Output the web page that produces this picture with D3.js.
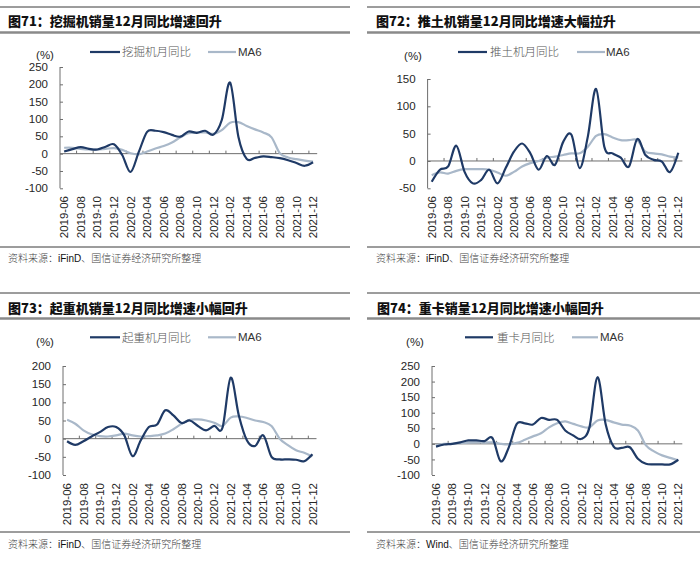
<!DOCTYPE html>
<html>
<head>
<meta charset="utf-8">
<script src="https://cdn.jsdelivr.net/npm/d3@7/dist/d3.min.js"></script>
<style>
  html, body { margin: 0; padding: 0; background: #fff; }
  svg { display: block; }
  .cjk { font-family: "Noto Sans CJK SC", sans-serif; }
  .lat { font-family: "Liberation Sans", Arial, sans-serif; }
</style>
</head>
<body>
<svg id="chart" width="700" height="561"></svg>
<script>
// ---------------- DATA ----------------
const months = ["2019-06","2019-07","2019-08","2019-09","2019-10","2019-11","2019-12",
  "2020-01","2020-02","2020-03","2020-04","2020-05","2020-06","2020-07","2020-08","2020-09",
  "2020-10","2020-11","2020-12","2021-01","2021-02","2021-03","2021-04","2021-05","2021-06",
  "2021-07","2021-08","2021-09","2021-10","2021-11","2021-12"];
const tickMonths = ["2019-06","2019-08","2019-10","2019-12","2020-02","2020-04","2020-06","2020-08",
  "2020-10","2020-12","2021-02","2021-04","2021-06","2021-08","2021-10","2021-12"];

// 图71 挖掘机
const excavatorYoY = [6,13,19,14,12,20,27,-4,-53,5,63,66,62,54,49,64,60,66,55,97,205,49,-15,-12,-8,-10,-13,-19,-27,-35,-25];
const excavatorMA6 = [17,17,14,12,12,14,16,11,1,-2,6,15,22,32,47,59,61,61,57,68,89,91,80,70,61,47,1,-11,-16,-20,-23];
const excavatorTicks = [-100,-50,0,50,100,150,200,250];

// 图72 推土机
const bulldozerYoY = [-38,-16,-10,28,-20,-41,-35,-16,-41,-13,17,32,14,-16,9,-7,35,48,-13,45,132,26,14,6,-10,40,11,2,-1,-20,15];
const bulldozerMA6 = [-26,-21,-23,-18,-15,-15,-15,-16,-21,-27,-20,-10,-4,0,6,8,11,14,14,26,46,49,43,38,38,38,17,14,12,8,6];
const bulldozerTicks = [-50,0,50,100,150];

// 图73 起重机
const craneYoY = [-7,-17,-7,6,18,32,32,9,-48,-5,32,39,78,64,43,50,35,23,35,30,168,64,-5,-20,9,-50,-57,-57,-58,-62,-43];
const craneMA6 = [52,41,23,12,7,6,9,14,9,6,7,9,14,26,41,52,53,50,44,35,58,61,57,50,46,35,0,-18,-32,-39,-49];
const craneTicks = [-100,-50,0,50,100,150,200];

// 图74 重卡
const truckYoY = [-9,-2,0,5,11,11,9,18,-56,-12,64,66,62,83,77,77,43,27,16,53,214,64,-9,-13,-11,-48,-64,-66,-66,-66,-51];
const truckMA6 = [-5,0,0,2,4,5,4,5,0,-2,3,13,24,34,53,66,72,64,56,53,75,77,69,62,59,43,-5,-24,-37,-45,-53];
const truckTicks = [-100,-50,0,50,100,150,200,250];

const titles = ["图71：挖掘机销量12月同比增速回升","图72：推土机销量12月同比增速大幅拉升",
                "图73：起重机销量12月同比增速小幅回升","图74：重卡销量12月同比增速小幅回升"];
const legendNames = ["挖掘机月同比","推土机月同比","起重机月同比","重卡月同比"];
const maName = "MA6";
const sources = ["iFinD","iFinD","iFinD","Wind"];

// ---------------- LAYOUT ----------------
const panels = [
  { yoy: excavatorYoY, ma: excavatorMA6, ticks: excavatorTicks, title: titles[0], legend: legendNames[0], src: sources[0],
    x0: 0, x1: 350, topY: 7, titleX: 8, titleY: 26, thickY: 32.5,
    pl: 60, pr: 317.2, pt: 67, pb: 188.3,
    legY: 52, l1: [90,120], t1: 122, l2: [208,236], t2: 238, pctX: 45, pctY: 58.5,
    labTop: 196, botY: 247, srcX: 8, srcY: 262 },
  { yoy: bulldozerYoY, ma: bulldozerMA6, ticks: bulldozerTicks, title: titles[1], legend: legendNames[1], src: sources[1],
    x0: 367, x1: 700, topY: 7, titleX: 376, titleY: 26, thickY: 32.5,
    pl: 427.6, pr: 682.4, pt: 79, pb: 188.3,
    legY: 52, l1: [458,487], t1: 490, l2: [577,605], t2: 606, pctX: 413, pctY: 60,
    labTop: 196, botY: 247, srcX: 376, srcY: 262 },
  { yoy: craneYoY, ma: craneMA6, ticks: craneTicks, title: titles[2], legend: legendNames[2], src: sources[2],
    x0: 0, x1: 350, topY: 293, titleX: 8, titleY: 313, thickY: 318.5,
    pl: 63, pr: 316.5, pt: 366, pb: 475,
    legY: 337.3, l1: [90,120], t1: 122, l2: [208,236], t2: 238, pctX: 45, pctY: 346,
    labTop: 483, botY: 532, srcX: 8, srcY: 548 },
  { yoy: truckYoY, ma: truckMA6, ticks: truckTicks, title: titles[3], legend: legendNames[3], src: sources[3],
    x0: 367, x1: 700, topY: 293, titleX: 377, titleY: 313, thickY: 318.5,
    pl: 432, pr: 682.3, pt: 366, pb: 475,
    legY: 337.3, l1: [465,493], t1: 497, l2: [572,598], t2: 600, pctX: 415, pctY: 346,
    labTop: 483, botY: 532, srcX: 376, srcY: 548 }
];

const DARK = "#1f3a66", LIGHT = "#a9b8c9", AXIS = "#6e6e6e", TXT = "#262626";
const svg = d3.select("#chart");

panels.forEach(p => {
  const g = svg.append("g");
  // frame lines
  g.append("line").attr("x1", p.x0).attr("x2", p.x1).attr("y1", p.topY).attr("y2", p.topY)
    .attr("stroke", "#3a3a3a").attr("stroke-width", 1);
  g.append("line").attr("x1", p.x0).attr("x2", p.x1).attr("y1", p.thickY).attr("y2", p.thickY)
    .attr("stroke", "#8a8a8a").attr("stroke-width", 2.5);
  g.append("line").attr("x1", p.x0).attr("x2", p.x1).attr("y1", p.botY).attr("y2", p.botY)
    .attr("stroke", "#3a3a3a").attr("stroke-width", 1);

  // title
  g.append("text").attr("class", "cjk").attr("x", p.titleX).attr("y", p.titleY)
    .attr("font-size", 13).attr("font-weight", 900).attr("fill", "#111").text(p.title);

  // source
  const s = g.append("text").attr("x", p.srcX).attr("y", p.srcY).attr("font-size", 10);
  s.append("tspan").attr("class", "cjk").attr("font-weight", 300).attr("fill", "#444").text("资料来源：");
  s.append("tspan").attr("class", "lat").attr("font-weight", 400).attr("fill", "#111").text(p.src);
  s.append("tspan").attr("class", "cjk").attr("font-weight", 300).attr("fill", "#444").text("、国信证券经济研究所整理");

  // scales
  const x = d3.scaleBand().domain(months).range([p.pl, p.pr]);
  const cx = m => x(m) + x.bandwidth() / 2;
  const y = d3.scaleLinear().domain(d3.extent(p.ticks)).range([p.pb, p.pt]);

  // y axis
  const yAxis = d3.axisRight(y).tickValues(p.ticks).tickSize(3).tickFormat("");
  const ya = g.append("g").attr("transform", `translate(${p.pl},0)`).call(yAxis);
  ya.select(".domain").attr("stroke", AXIS).attr("d", `M0,${p.pt}V${p.pb}`);
  ya.selectAll(".tick line").attr("stroke", AXIS);
  g.selectAll(".ylab").data(p.ticks).join("text").attr("class", "lat")
    .attr("x", p.pl - 12).attr("y", d => y(d)).attr("dy", "0.36em")
    .attr("text-anchor", "end").attr("font-size", 11.5).attr("fill", TXT).text(d => d);

  // x axis at zero, tick marks at category boundaries every 2 months
  const boundaries = months.filter((m, i) => i % 2 === 0 && i > 0);
  const xa = g.append("g").attr("transform", `translate(0,${y(0)})`);
  xa.append("line").attr("x1", p.pl).attr("x2", p.pr).attr("stroke", AXIS).attr("stroke-width", 1);
  xa.selectAll(".xt").data(boundaries).join("line")
    .attr("x1", d => x(d)).attr("x2", d => x(d)).attr("y1", 0).attr("y2", -3)
    .attr("stroke", AXIS);

  // x labels (rotated)
  g.selectAll(".xlab").data(tickMonths).join("text").attr("class", "lat")
    .attr("transform", d => `translate(${cx(d)},${p.labTop}) rotate(-90)`)
    .attr("dy", "0.36em").attr("text-anchor", "end").attr("font-size", 11.5).attr("fill", TXT).text(d => d);

  // lines
  const line = d3.line().x((d, i) => cx(months[i])).y(d => y(d)).curve(d3.curveCardinal.tension(0));
  g.append("path").attr("d", line(p.ma)).attr("fill", "none").attr("stroke", LIGHT).attr("stroke-width", 2.2);
  g.append("path").attr("d", line(p.yoy)).attr("fill", "none").attr("stroke", DARK).attr("stroke-width", 2.2);

  // (%) label
  g.append("text").attr("class", "lat").attr("x", p.pctX).attr("y", p.pctY).attr("text-anchor", "middle")
    .attr("font-size", 11.5).attr("fill", TXT).text("(%)");

  // legend
  g.append("line").attr("x1", p.l1[0]).attr("x2", p.l1[1]).attr("y1", p.legY).attr("y2", p.legY)
    .attr("stroke", DARK).attr("stroke-width", 2.2);
  g.append("text").attr("class", "cjk").attr("x", p.t1).attr("y", p.legY).attr("dy", "0.38em")
    .attr("font-size", 11.5).attr("font-weight", 300).attr("fill", "#555").text(p.legend);
  g.append("line").attr("x1", p.l2[0]).attr("x2", p.l2[1]).attr("y1", p.legY).attr("y2", p.legY)
    .attr("stroke", LIGHT).attr("stroke-width", 2.2);
  g.append("text").attr("class", "lat").attr("x", p.t2).attr("y", p.legY).attr("dy", "0.36em")
    .attr("font-size", 11.5).attr("fill", "#333").text(maName);
});
</script>
</body>
</html>
